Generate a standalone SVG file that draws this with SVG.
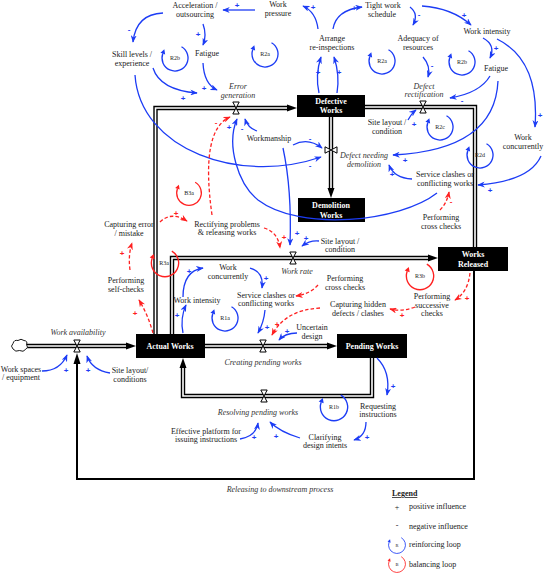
<svg xmlns="http://www.w3.org/2000/svg" width="544" height="575" viewBox="0 0 544 575">
<style>
text{font-family:"Liberation Serif","Times New Roman",serif;font-size:8px;fill:#222;text-anchor:middle}
.i{font-style:italic;fill:#333}
.w{fill:#fff;font-weight:bold}
.lp{font-size:6px}
.sb{font-family:"Liberation Sans",Arial,sans-serif;font-size:8px;fill:#1c3cf5;font-weight:bold}
.sr{font-family:"Liberation Sans",Arial,sans-serif;font-size:8px;fill:#ff2020;font-weight:bold}
.lg{text-anchor:start}
.cb{fill:none;stroke:#1c3cf5;stroke-width:1.3;marker-end:url(#ab)}
.cr{fill:none;stroke:#ff2020;stroke-width:1.3;stroke-dasharray:3.5,2.2;marker-end:url(#ar)}
.po{fill:none;stroke:#000;stroke-width:4.4;stroke-linejoin:miter}
.pi{fill:none;stroke:#fff;stroke-width:1.6;stroke-linejoin:miter}
.stock{fill:#000}
</style>
<defs>
<marker id="ab" viewBox="0 0 10 8" refX="9" refY="4" markerWidth="7.5" markerHeight="6" markerUnits="userSpaceOnUse" orient="auto"><path d="M0,0 L10,4 L0,8 L3,4 z" fill="#1c3cf5"/></marker>
<marker id="ar" viewBox="0 0 10 8" refX="9" refY="4" markerWidth="7.5" markerHeight="6" markerUnits="userSpaceOnUse" orient="auto"><path d="M0,0 L10,4 L0,8 L3,4 z" fill="#ff2020"/></marker>
<g id="loopB"><path d="M6.5,-11.26 A13,13 0 1 1 -12.2,-4.45" fill="none" stroke="#1c3cf5" stroke-width="1.3"/><polygon points="-10.66,-8.68 -9.85,-3.6 -14.55,-5.3" fill="#1c3cf5"/></g>
<g id="loopR"><path d="M6.5,-11.26 A13,13 0 1 1 -12.2,-4.45" fill="none" stroke="#ff2020" stroke-width="1.3"/><polygon points="-10.66,-8.68 -9.85,-3.6 -14.55,-5.3" fill="#ff2020"/></g>
<g id="valve"><path d="M-3.2,-6 L3.2,-6 L0,0 Z M-3.2,6 L3.2,6 L0,0 Z" fill="#fff" stroke="#000" stroke-width="1"/></g>
</defs>
<rect width="544" height="575" fill="#fff"/>

<!-- pipes / flows -->
<g id="flows">
<path d="M24,346 L128,346" class="po"/><path d="M24,346 L129,346" class="pi"/>
<polygon points="126,342.5 136,346 126,349.5"/>
<path d="M205,346 L329,346" class="po"/><path d="M205,346 L330,346" class="pi"/>
<polygon points="327,342.5 337,346 327,349.5"/>
<path d="M155.5,334 L155.5,108 L289,108" class="po"/><path d="M155.5,335 L155.5,108 L290,108" class="pi"/>
<polygon points="287,104.5 297,108 287,111.5"/>
<path d="M172,334 L172,258 L430,258" class="po"/><path d="M172,335 L172,258 L431,258" class="pi"/>
<polygon points="428,254.5 438,258 428,261.5"/>
<path d="M331,117 L331,190" class="po"/><path d="M331,116 L331,191" class="pi"/>
<polygon points="327.5,188 331,198 334.5,188"/>
<path d="M365,107 L475,107 L475,247" class="po"/><path d="M364,107 L475,107 L475,248" class="pi"/>
<path d="M372,358 L372,396 L183,396 L183,366" class="po"/><path d="M372,357 L372,396 L183,396 L183,365" class="pi"/>
<polygon points="179.5,368 183,358 186.5,368"/>
<path d="M474,271 L474,479 L77,479 L77,362" fill="none" stroke="#000" stroke-width="2"/>
<polygon points="73.5,364 77,353 80.5,364"/>
<path d="M13,349 q-3,-3 0,-5.5 q1,-4 5,-3 q3,-2.5 6,0 q4,0.5 2.5,4 q2.5,3 -1,5 q-2,3 -6,1 q-4,2 -6.5,-1.5 z" fill="#fff" stroke="#000" stroke-width="0.9"/>
<use href="#valve" transform="translate(77,346)"/>
<use href="#valve" transform="translate(263,346)"/>
<use href="#valve" transform="translate(236,108)"/>
<use href="#valve" transform="translate(293,258)"/>
<use href="#valve" transform="translate(423,107)"/>
<use href="#valve" transform="translate(331,150) rotate(90)"/>
<use href="#valve" transform="translate(264,396)"/>
<text class="i" x="78" y="335">Work availability</text>
<text class="i" x="263" y="365">Creating pending works</text>
<text class="i" x="297" y="274">Work rate</text>
<text class="i" x="258" y="415">Resolving pending works</text>
<text class="i" x="280" y="492">Releasing to downstream process</text>
<text class="i" x="238" y="89">Error</text><text class="i" x="238" y="98">generation</text>
<text class="i" x="424" y="89">Defect</text><text class="i" x="424" y="97">rectification</text>
<text class="i" x="364" y="158">Defect needing</text><text class="i" x="364" y="167">demolition</text>
</g>

<!-- stocks -->
<g id="defective-works"><rect class="stock" x="297" y="95" width="68" height="22"/><text class="w" x="331" y="104">Defective</text><text class="w" x="331" y="113">Works</text></g>
<g id="demolition-works"><rect class="stock" x="298" y="198" width="67" height="24"/><text class="w" x="331" y="208">Demolition</text><text class="w" x="331" y="218">Works</text></g>
<g id="works-released"><rect class="stock" x="438" y="247" width="70" height="24"/><text class="w" x="473" y="257">Works</text><text class="w" x="473" y="267">Released</text></g>
<g id="actual-works"><rect class="stock" x="136" y="334" width="69" height="24"/><text class="w" x="170" y="349">Actual Works</text></g>
<g id="pending-works"><rect class="stock" x="337" y="334" width="70" height="24"/><text class="w" x="372" y="349">Pending Works</text></g>

<!-- variables -->
<g id="acceleration"><text x="195" y="8">Acceleration /</text><text x="195" y="17">outsourcing</text></g>
<g id="work-pressure"><text x="278" y="7">Work</text><text x="278" y="16">pressure</text></g>
<g id="tight-schedule"><text x="383" y="8">Tight work</text><text x="382" y="17">schedule</text></g>
<g id="arrange-reinspections"><text x="332" y="41">Arrange</text><text x="332" y="50">re-inspections</text></g>
<g id="adequacy"><text x="418" y="41">Adequacy of</text><text x="418" y="50">resources</text></g>
<g id="work-intensity-top"><text x="487" y="34">Work intensity</text></g>
<g id="skill-levels"><text x="132" y="57">Skill levels /</text><text x="132" y="66">experience</text></g>
<g id="fatigue-left"><text x="207" y="56">Fatigue</text></g>
<g id="fatigue-right"><text x="496" y="71">Fatigue</text></g>
<g id="site-layout-top"><text x="387" y="125">Site layout /</text><text x="387" y="134">condition</text></g>
<g id="workmanship"><text x="269" y="141">Workmanship</text></g>
<g id="work-concurrently-right"><text x="523" y="140">Work</text><text x="523" y="149">concurrently</text></g>
<g id="service-clashes-top"><text x="445" y="177">Service clashes or</text><text x="445" y="186">conflicting works</text></g>
<g id="cross-checks-top"><text x="441" y="220">Performing</text><text x="441" y="229">cross checks</text></g>
<g id="capturing-error"><text x="129" y="227">Capturing error</text><text x="129" y="236">/ mistake</text></g>
<g id="rectifying"><text x="227" y="227">Rectifying problems</text><text x="227" y="235">&amp; releasing works</text></g>
<g id="site-layout-mid"><text x="340" y="244">Site layout /</text><text x="340" y="252">condition</text></g>
<g id="self-checks"><text x="126" y="283">Performing</text><text x="126" y="292">self-checks</text></g>
<g id="work-concurrently-mid"><text x="228" y="270">Work</text><text x="228" y="279">concurrently</text></g>
<g id="cross-checks-mid"><text x="345" y="281">Performing</text><text x="345" y="290">cross checks</text></g>
<g id="service-clashes-mid"><text x="266" y="298">Service clashes or</text><text x="266" y="306">conflicting works</text></g>
<g id="work-intensity-mid"><text x="197" y="303">Work intensity</text></g>
<g id="capturing-hidden"><text x="358" y="307">Capturing hidden</text><text x="358" y="316">defects / clashes</text></g>
<g id="successive-checks"><text x="432" y="299">Performing</text><text x="432" y="308">successive</text><text x="432" y="316">checks</text></g>
<g id="uncertain-design"><text x="312" y="330">Uncertain</text><text x="312" y="339">design</text></g>
<g id="work-spaces"><text x="21" y="372">Work spaces</text><text x="21" y="380">/ equipment</text></g>
<g id="site-layout-bottom"><text x="130" y="373">Site layout/</text><text x="130" y="382">conditions</text></g>
<g id="requesting"><text x="378" y="409">Requesting</text><text x="378" y="417">instructions</text></g>
<g id="clarifying"><text x="325" y="440">Clarifying</text><text x="325" y="448">design intents</text></g>
<g id="effective-platform"><text x="206" y="434">Effective platform for</text><text x="206" y="442">issuing instructions</text></g>

<!-- loops -->
<g id="loops">
<use href="#loopB" transform="translate(175,58)"/><text class="lp" x="175" y="60">R2b</text>
<use href="#loopB" transform="translate(265,54)"/><text class="lp" x="265" y="56">R2a</text>
<use href="#loopB" transform="translate(382,61)"/><text class="lp" x="382" y="63">R2a</text>
<use href="#loopB" transform="translate(462,62)"/><text class="lp" x="462" y="64">R2b</text>
<use href="#loopB" transform="translate(440,127)"/><text class="lp" x="440" y="129">R2c</text>
<use href="#loopB" transform="translate(480,155)"/><text class="lp" x="480" y="157">R2d</text>
<use href="#loopR" transform="translate(189,193) scale(0.95)"/><text class="lp" x="189" y="195">B3a</text>
<use href="#loopR" transform="translate(165,263) scale(1.05)"/><text class="lp" x="164" y="265">R3a</text>
<use href="#loopR" transform="translate(420,276) scale(1.05)"/><text class="lp" x="420" y="278">R3b</text>
<use href="#loopB" transform="translate(225,318)"/><text class="lp" x="225" y="320">R1a</text>
<use href="#loopB" transform="translate(334,407) scale(1.05)"/><text class="lp" x="334" y="409">R1b</text>
</g>

<!-- connectors -->
<g id="connectors">
<path class="cb" d="M255,10 L223,10"/><text class="sb" x="237" y="8">+</text>
<path class="cb" d="M318,29 Q316,12 303,6"/><text class="sb" x="313" y="10">+</text>
<path class="cb" d="M333,29 Q336,10 362,7"/><text class="sb" x="354" y="11">+</text>
<path class="cb" d="M319,93 Q315,75 321,57"/><text class="sb" x="318" y="75">+</text>
<path class="cb" d="M337,93 Q340,75 334,57"/><text class="sb" x="339" y="75">+</text>
<path class="cb" d="M163,13 Q136,14 133,42"/><text class="sb" x="129" y="32">-</text>
<path class="cb" d="M203,24 Q207,35 203,45"/><text class="sb" x="198" y="37">+</text>
<path class="cb" d="M410,7 Q419,14 413,25"/><text class="sb" x="419" y="17">-</text>
<path class="cb" d="M422,6 Q452,8 471,25"/><text class="sb" x="464" y="18">+</text>
<path class="cb" d="M483,38 Q496,45 490,58"/><text class="sb" x="496" y="51">+</text>
<path class="cb" d="M497,39 Q540,60 535,127"/><text class="sb" x="540" y="118">+</text>
<path class="cb" d="M490,76 Q480,93 450,98"/><text class="sb" x="462" y="103">-</text>
<path class="cb" d="M498,81 Q495,150 393,155"/><text class="sb" x="405" y="163">+</text>
<path class="cb" d="M423,57 Q431,66 428,77"/><text class="sb" x="432" y="68">-</text>
<path class="cb" d="M408,120 Q411,114 416,110"/><text class="sb" x="414" y="127">+</text>
<path class="cb" d="M541,156 Q530,181 478,185"/><text class="sb" x="490" y="193">+</text>
<path class="cb" d="M412,179 Q394,178 389,165"/><text class="sb" x="392" y="177">+</text>
<path class="cb" d="M437,193 C400,222 300,232 258,200 C238,184 226,145 237,119"/><text class="sb" x="229" y="130">+</text>
<path class="cb" d="M257,131 Q248,128 245,119"/><text class="sb" x="242" y="131">-</text>
<path class="cb" d="M153,68 Q160,90 197,93"/><text class="sb" x="183" y="101">+</text>
<path class="cb" d="M203,63 Q204,84 217,90"/><text class="sb" x="204" y="91">+</text>
<path class="cb" d="M135,75 C140,150 240,185 321,157"/><text class="sb" x="310" y="168">-</text>
<path class="cb" d="M293,145 Q308,137 322,148"/><text class="sb" x="310" y="141">-</text>
<path class="cb" d="M283,148 Q292,190 290,245"/><text class="sb" x="297" y="236">+</text>
<path class="cb" d="M319,241 Q310,240 302,246"/><text class="sb" x="306" y="241">+</text>
<path class="cb" d="M183,333 Q180,318 186,305"/><text class="sb" x="177" y="318">+</text>
<path class="cb" d="M183,297 Q183,271 203,268"/><text class="sb" x="189" y="274">+</text>
<path class="cb" d="M250,268 Q264,272 262,288"/><text class="sb" x="266" y="281">+</text>
<path class="cb" d="M265,310 Q264,322 258,333"/><text class="sb" x="267" y="330">+</text>
<path class="cb" d="M297,333 Q285,333 279,340"/><text class="sb" x="287" y="334">+</text>
<path class="cb" d="M377,358 Q391,372 387,395"/><text class="sb" x="393" y="389">+</text>
<path class="cb" d="M366,422 Q366,436 354,440"/><text class="sb" x="367" y="440">+</text>
<path class="cb" d="M300,438 Q280,432 270,422"/><text class="sb" x="276" y="439">+</text>
<path class="cb" d="M240,439 Q256,436 258,423"/><text class="sb" x="254" y="440">+</text>
<path class="cb" d="M42,371 Q60,371 67,355"/><text class="sb" x="66" y="373">+</text>
<path class="cb" d="M110,373 Q92,370 87,356"/><text class="sb" x="88" y="373">+</text>

<path class="cr" d="M153,333 Q148,315 139,300"/><text class="sr" x="135" y="316">+</text>
<path class="cr" d="M130,270 Q128,255 132,243"/><text class="sr" x="122" y="256">+</text>
<path class="cr" d="M160,222 Q171,211 187,221"/><text class="sr" x="176" y="216">+</text>
<path class="cr" d="M212,215 Q200,130 230,117"/><text class="sr" x="216" y="125">-</text>
<path class="cr" d="M264,228 Q278,232 280,248"/><text class="sr" x="284" y="240">+</text>
<path class="cr" d="M440,210 Q447,203 449,192"/><text class="sr" x="451" y="204">-</text>
<path class="cr" d="M470,273 Q468,292 455,300"/><text class="sr" x="467" y="301">+</text>
<path class="cr" d="M415,307 Q402,312 390,309"/><text class="sr" x="402" y="318">+</text>
<path class="cr" d="M320,308 Q285,310 272,335"/><text class="sr" x="277" y="327">+</text>
<path class="cr" d="M318,285 Q310,294 296,296"/>
</g>

<!-- legend -->
<g id="legend">
<text class="lg" x="392" y="496" font-weight="bold" text-decoration="underline">Legend</text>
<text x="397" y="510">+</text><text class="lg" x="409" y="509">positive influence</text>
<text x="397" y="528">-</text><text class="lg" x="409" y="529">negative influence</text>
<use href="#loopB" transform="translate(397,545) scale(0.65)"/><text class="lp" x="397" y="547" style="font-size:4.5px">R</text><text class="lg" x="409" y="547">reinforcing loop</text>
<use href="#loopR" transform="translate(397,564) scale(0.65)"/><text class="lp" x="397" y="566" style="font-size:4.5px">B</text><text class="lg" x="409" y="567">balancing loop</text>
</g>
</svg>
